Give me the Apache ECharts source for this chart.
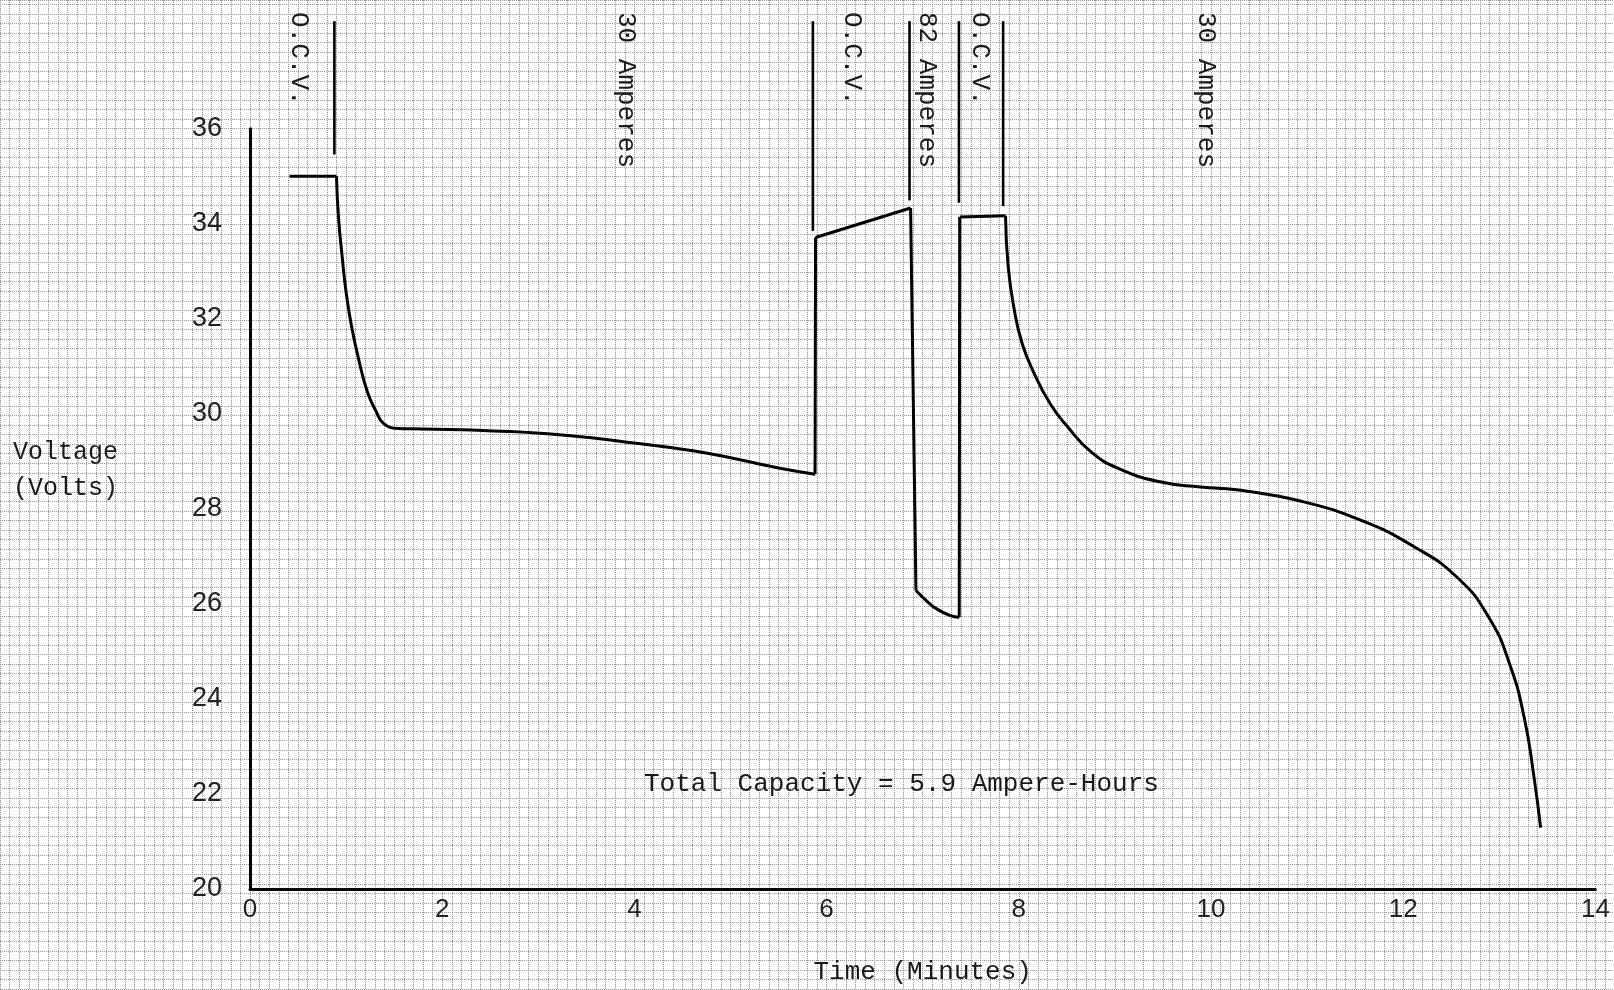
<!DOCTYPE html>
<html>
<head>
<meta charset="utf-8">
<script src="https://cdn.jsdelivr.net/npm/echarts@6/dist/echarts.min.js"></script>
<style>
html,body{margin:0;padding:0;background:#ffffff;}
#chart{width:1614px;height:990px;}
</style>
</head>
<body>
<div id="chart"></div>
<script>
// ---------- data (time in minutes, voltage in volts) ----------
const xTickValues = [0, 2, 4, 6, 8, 10, 12, 14];
const yTickValues = [20, 22, 24, 26, 28, 30, 32, 34, 36];

const ocvFirst = [[0.41, 35.0], [0.90, 35.0]];
const amp30First = [[0.90, 35.0], [0.92, 34.16], [0.962, 33.25], [1.0, 32.56], [1.055, 31.86],
  [1.129, 31.16], [1.222, 30.46], [1.315, 30.04], [1.389, 29.80], [1.536, 29.69], [1.796, 29.68],
  [2.536, 29.64], [3.277, 29.55], [4.018, 29.38], [4.759, 29.17], [5.50, 28.86], [5.88, 28.73]];
const jumpToOcvSecond = [[5.88, 28.73], [5.885, 33.71]];
const ocvSecond = [[5.885, 33.71], [6.874, 34.33]];
const dropTo82A = [[6.874, 34.33], [6.93, 26.28]];
const amp82 = [[6.93, 26.28], [7.037, 26.07], [7.141, 25.90], [7.281, 25.76], [7.38, 25.72]];
const jumpToOcvThird = [[7.38, 25.72], [7.385, 34.14]];
const ocvThird = [[7.385, 34.14], [7.862, 34.17]];
const amp30Second = [[7.862, 34.17], [7.889, 33.11], [7.952, 32.20], [8.035, 31.48], [8.162, 30.84],
  [8.330, 30.20], [8.499, 29.75], [8.752, 29.20], [9.047, 28.84], [9.467, 28.57], [9.889, 28.46],
  [10.31, 28.39], [10.94, 28.16], [11.57, 27.75], [12.10, 27.22], [12.56, 26.56], [12.89, 25.72],
  [13.11, 24.72], [13.26, 23.60], [13.36, 22.37], [13.43, 21.29]];

const separatorTimes = [0.878, 5.857, 6.863, 7.377, 7.837];
const separatorBottoms = [35.46, 33.86, 34.50, 34.45, 34.38];
const separatorTop = 38.25;

const phaseLabels = ['O.C.V.', '30 Amperes', 'O.C.V.', '82 Amperes', 'O.C.V.', '30 Amperes'];
const yAxisTitleLines = ['Voltage', '(Volts)'];
const xAxisTitle = 'Time (Minutes)';
const noteText = 'Total Capacity = 5.9 Ampere-Hours';

// ---------- layout ----------
const W = 1614, H = 990;
const plotLeft = 250, plotRight = 18.6, plotTop = 128.7, plotBottom = 96.6;
const pxPerMin = (W - plotLeft - plotRight) / 14;
const pxPerVolt = (H - plotTop - plotBottom) / 16;
const paperXMin = -2.6, paperYMin = 18;
const paperLeft = plotLeft + paperXMin * pxPerMin;
const paperBottom = plotBottom - (20 - paperYMin) * pxPerVolt;
const paperXMax = 14 + plotRight / pxPerMin;
const paperYMax = 36 + plotTop / pxPerVolt;

const phaseLabelX = [298.5, 625.8, 852.3, 926.4, 980, 1206.3];
const mono = '"Liberation Mono", "DejaVu Sans Mono", monospace';
const sans = '"Liberation Sans", "DejaVu Sans", sans-serif';

const chart = echarts.init(document.getElementById('chart'), null, {renderer: 'canvas'});

const curveStyle = {color: '#000', width: 3};
function curve(data, smooth) {
  return {
    type: 'line', xAxisIndex: 0, yAxisIndex: 0, data: data,
    showSymbol: false, symbol: 'none', smooth: smooth,
    lineStyle: curveStyle, silent: true, z: 5, animation: false
  };
}

const series = [
  curve(ocvFirst, false),
  curve(amp30First, 0.5),
  curve(jumpToOcvSecond, false),
  curve(ocvSecond, false),
  curve(dropTo82A, false),
  curve(amp82, 0.5),
  curve(jumpToOcvThird, false),
  curve(ocvThird, false),
  curve(amp30Second, 0.5)
];
separatorTimes.forEach((t, i) => {
  series.push({
    type: 'line', xAxisIndex: 1, yAxisIndex: 1,
    data: [[t, separatorTop], [t, separatorBottoms[i]]],
    showSymbol: false, symbol: 'none', lineStyle: {color: '#000', width: 2.6},
    silent: true, z: 5, animation: false
  });
});

const graphics = [];
phaseLabels.forEach((txt, i) => {
  graphics.push({
    type: 'text', x: phaseLabelX[i], y: 12, rotation: -Math.PI / 2,
    style: {text: txt, font: '26px ' + mono, fill: '#1a1a1a', align: 'left', verticalAlign: 'middle'},
    z: 10
  });
});
graphics.push({type: 'text', left: 13, top: 440,
  style: {text: yAxisTitleLines[0], font: '25px ' + mono, fill: '#1a1a1a'}, z: 10});
graphics.push({type: 'text', left: 13, top: 476,
  style: {text: yAxisTitleLines[1], font: '25px ' + mono, fill: '#1a1a1a'}, z: 10});
graphics.push({type: 'text', left: 644, top: 771,
  style: {text: noteText, font: '26px ' + mono, fill: '#1a1a1a'}, z: 10});

const paperLine = {show: true, lineStyle: {color: '#8c8c8c', width: 1, type: [1, 1]}};

const option = {
  backgroundColor: '#ffffff',
  animation: false,
  grid: [
    {left: plotLeft, right: plotRight, top: plotTop, bottom: plotBottom, containLabel: false},
    {left: paperLeft, right: 0, top: 0, bottom: paperBottom, containLabel: false}
  ],
  xAxis: [
    {
      type: 'value', gridIndex: 0, min: 0, max: 14, interval: 2,
      axisLine: {show: true, lineStyle: {color: '#000', width: 3}},
      axisTick: {show: false}, splitLine: {show: false},
      axisLabel: {margin: 8, fontSize: 26, fontFamily: sans, color: '#222',
        formatter: v => xTickValues.includes(v) ? String(v) : ''},
      name: xAxisTitle, nameLocation: 'middle', nameGap: 70,
      nameTextStyle: {fontFamily: mono, fontSize: 26, color: '#1a1a1a'}
    },
    {
      type: 'value', gridIndex: 1, min: paperXMin, max: paperXMax, interval: 0.1,
      axisLine: {show: false}, axisTick: {show: false}, axisLabel: {show: false},
      splitLine: paperLine
    }
  ],
  yAxis: [
    {
      type: 'value', gridIndex: 0, min: 20, max: 36, interval: 2,
      axisLine: {show: true, lineStyle: {color: '#000', width: 3}},
      axisTick: {show: false}, splitLine: {show: false},
      axisLabel: {margin: 28, fontSize: 27, fontFamily: sans, color: '#222',
        formatter: v => yTickValues.includes(v) ? String(v) : ''}
    },
    {
      type: 'value', gridIndex: 1, min: paperYMin, max: paperYMax, interval: 0.2,
      axisLine: {show: false}, axisTick: {show: false}, axisLabel: {show: false},
      splitLine: paperLine
    }
  ],
  graphic: graphics,
  series: series
};
chart.setOption(option);
</script>
</body>
</html>
